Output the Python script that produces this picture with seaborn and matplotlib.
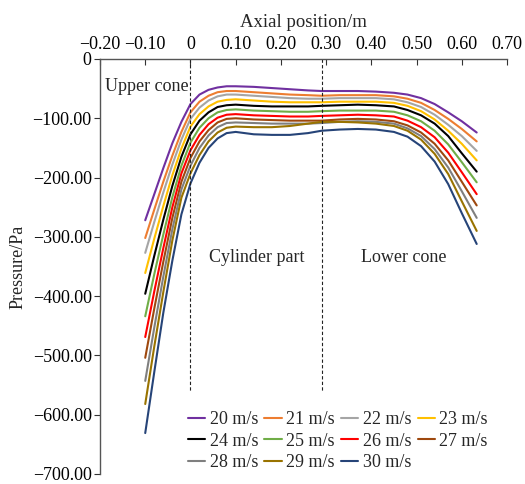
import numpy as np
import pandas as pd
import matplotlib
matplotlib.use("Agg")
import matplotlib.pyplot as plt
from matplotlib.ticker import FuncFormatter
import seaborn as sns

# axial positions (m)
pos = [-0.10, -0.08, -0.06, -0.04, -0.02, 0.00, 0.02, 0.04, 0.06, 0.08, 0.10,
       0.14, 0.18, 0.22, 0.26, 0.29, 0.33, 0.37, 0.41, 0.45, 0.48, 0.51,
       0.54, 0.57, 0.60, 0.633]

# pressure (Pa) for each inlet velocity
p20 = [-272, -228, -184, -142, -106, -76, -60, -52, -48, -46, -46, -47, -49, -51,
       -53, -54, -54, -54, -55, -57, -60, -66, -76, -90, -105, -124]
p21 = [-302, -254, -207, -163, -123, -90, -72, -62, -56, -54, -54, -56, -58, -60,
       -61, -62, -61, -61, -61, -63, -67, -74, -86, -101, -118, -139]
p22 = [-327, -275, -225, -178, -136, -101, -82, -70, -63, -60, -60, -62, -64, -66,
       -67, -67, -66, -66, -66, -68, -73, -81, -94, -111, -130, -155]
p23 = [-361, -303, -248, -196, -151, -114, -93, -80, -72, -69, -68, -70, -72, -73,
       -73, -73, -72, -72, -72, -74, -79, -88, -102, -121, -143, -171]
p24 = [-396, -332, -271, -214, -165, -127, -104, -90, -81, -78, -77, -79, -80, -80,
       -80, -79, -78, -77, -78, -80, -86, -95, -109, -130, -159, -190]
p25 = [-434, -363, -296, -233, -180, -141, -116, -100, -90, -86, -85, -87, -88, -89,
       -89, -88, -87, -87, -87, -89, -95, -105, -121, -144, -174, -208]
p26 = [-469, -392, -319, -250, -193, -154, -128, -110, -99, -94, -93, -95, -96, -97,
       -97, -96, -95, -94, -95, -97, -104, -115, -132, -158, -191, -228]
p27 = [-504, -421, -342, -268, -207, -167, -139, -120, -107, -101, -100, -102, -103, -104,
       -104, -104, -102, -101, -102, -105, -112, -124, -143, -171, -207, -247]
p28 = [-543, -453, -367, -287, -220, -180, -150, -129, -115, -108, -107, -108, -109, -109,
       -109, -108, -106, -105, -106, -109, -117, -130, -152, -183, -223, -268]
p29 = [-582, -485, -393, -306, -234, -193, -162, -139, -124, -116, -114, -115, -115, -113,
       -109, -106, -106, -107, -109, -113, -121, -136, -160, -194, -240, -290]
p30 = [-631, -528, -428, -340, -262, -210, -175, -150, -134, -125, -123, -127, -128, -128,
       -125, -121, -119, -118, -119, -123, -131, -147, -173, -211, -260, -312]

labels = ["20 m/s", "21 m/s", "22 m/s", "23 m/s", "24 m/s", "25 m/s",
          "26 m/s", "27 m/s", "28 m/s", "29 m/s", "30 m/s"]
series = [p20, p21, p22, p23, p24, p25, p26, p27, p28, p29, p30]
colors = ["#7030A0", "#ED7D31", "#A5A5A5", "#FFC000", "#000000", "#70AD47",
          "#FF0000", "#9E480E", "#7F7F7F", "#997300", "#264478"]

rows = []
for lab, vals in zip(labels, series):
    for x, y in zip(pos, vals):
        rows.append((lab, x, y))
df = pd.DataFrame(rows, columns=["speed", "x", "p"])

sns.set_style("ticks")
plt.rcParams["font.family"] = ["Liberation Serif", "DejaVu Serif"]
plt.rcParams["font.size"] = 13

fig = plt.figure(figsize=(5.25, 4.84), dpi=100)
ax = fig.add_axes([0.1905, 0.0207, 0.7752, 0.8574])

sns.lineplot(data=df, x="x", y="p", hue="speed", hue_order=labels,
             palette=colors, sort=False, lw=1.5, ax=ax)

# section boundaries
for xv in [0.0, 0.29]:
    ax.plot([xv, xv], [0, -562], color="#222222", lw=0.8, ls=(0, (3, 2)))

ax.text(-0.19, -47, "Upper cone", fontsize=13, va="center", ha="left")
ax.text(0.147, -334, "Cylinder part", fontsize=13, va="center", ha="center")
ax.text(0.471, -334, "Lower cone", fontsize=13, va="center", ha="center")

ax.set_xlim(-0.20, 0.70)
ax.set_ylim(-700, 0)
ax.set_xticks(np.arange(-0.2, 0.71, 0.1))
ax.set_yticks(np.arange(-700, 1, 100))

fmt = lambda v, _: "0" if abs(v) < 1e-9 else f"{v:.2f}".replace("-", "\u2212")
ax.xaxis.set_major_formatter(FuncFormatter(fmt))
ax.yaxis.set_major_formatter(FuncFormatter(fmt))

ax.xaxis.tick_top()
ax.xaxis.set_label_position("top")
ax.tick_params(axis="x", direction="in", length=4, colors="#333333", labelcolor="black",
               labelsize=13, pad=4)
ax.tick_params(axis="y", direction="out", length=4, colors="#333333", labelcolor="black",
               labelsize=13, pad=2)
for s in ["right", "bottom"]:
    ax.spines[s].set_visible(False)
for s in ["left", "top"]:
    ax.spines[s].set_color("#555555")
    ax.spines[s].set_linewidth(1.0)

ax.set_xlabel("Axial position/m", fontsize=13.5, labelpad=7)
ax.set_ylabel("Pressure/Pa", fontsize=13, labelpad=4)

# legend filled row by row like the original
handles, labs = ax.get_legend_handles_labels()
order = [0, 4, 8, 1, 5, 9, 2, 6, 10, 3, 7]
ax.legend([handles[i] for i in order], [labs[i] for i in order],
          ncol=4, loc="upper left", bbox_to_anchor=(0.216, 0.152), frameon=False,
          fontsize=13, handlelength=0.95, handletextpad=0.25, columnspacing=0.35,
          labelspacing=0.26, borderpad=0, borderaxespad=0)

fig.savefig("out.png", dpi=100)
